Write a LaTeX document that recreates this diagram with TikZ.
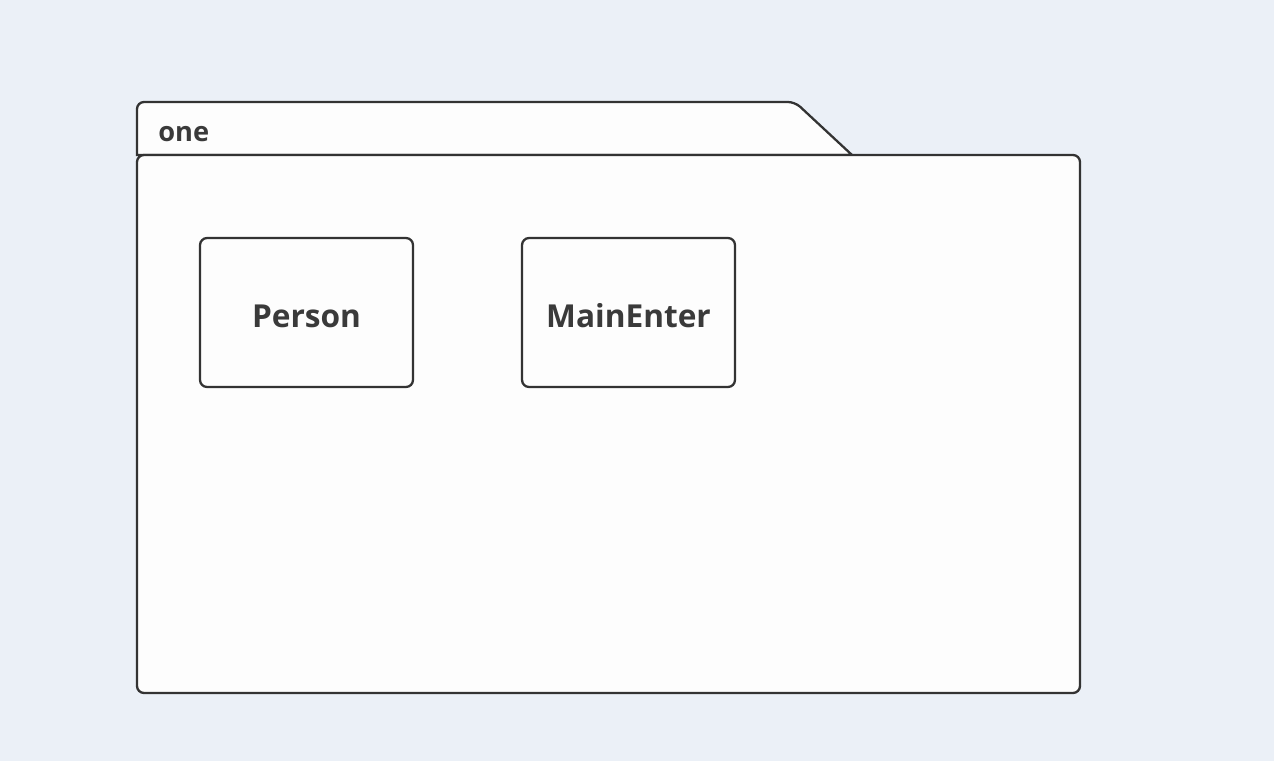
\documentclass[tikz,border=0pt]{standalone}
\usepackage{fontspec}
\setmainfont{Open Sans}
\definecolor{bgcol}{HTML}{EBF0F7}
\definecolor{pkgfill}{HTML}{FDFDFD}
\definecolor{linecol}{HTML}{333333}
\definecolor{txtcol}{HTML}{3A3A3A}
\tikzset{
  classbox/.style={draw=linecol,line width=1.3pt,fill=pkgfill,rounded corners=4pt,
    minimum width=4.26cm,minimum height=2.98cm,inner sep=0pt,
    font=\fontsize{18}{20}\selectfont\bfseries,text=txtcol},
  pkgline/.style={draw=linecol,line width=1.3pt,fill=pkgfill}
}
\begin{document}
\begin{tikzpicture}[x=0.02cm,y=-0.02cm]
% background
\fill[bgcol] (0,0) rectangle (1274,761);
\useasboundingbox (0,0) rectangle (1274,761);

% package tab and body
\draw[pkgline] (137,155) [rounded corners=4pt] -- (137,102) -- (795,102) [sharp corners] -- (852,155) -- cycle;
\draw[pkgline,rounded corners=4pt] (137,155) rectangle (1080,693);
\node[anchor=west,font=\fontsize{15.5}{17}\selectfont\bfseries,text=txtcol,inner sep=0pt] (pkgname) at (158,134) {one};

% classes
\node[classbox] (person) at (306.5,312.5) {};
\node[font=\fontsize{18}{20}\selectfont\bfseries,text=txtcol] (personlbl) at (person.center) [yshift=-0.07cm] {Person};
\node[classbox] (mainenter) at (628.5,312.5) {};
\node[font=\fontsize{18}{20}\selectfont\bfseries,text=txtcol] (mainenterlbl) at (mainenter.center) [yshift=-0.07cm] {MainEnter};
\end{tikzpicture}
\end{document}
